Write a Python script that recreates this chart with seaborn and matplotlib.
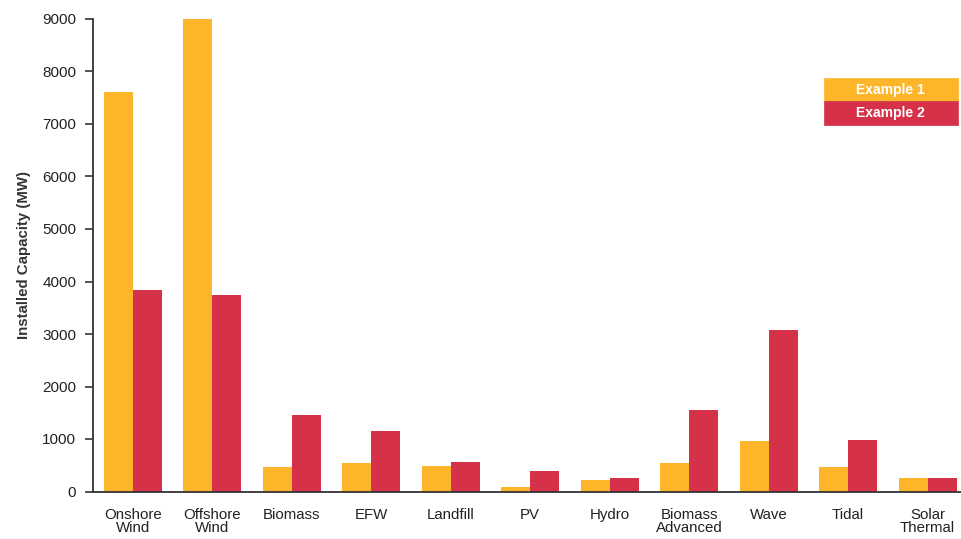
import pandas as pd
import matplotlib
matplotlib.use("Agg")
import matplotlib.pyplot as plt
import seaborn as sns

categories = ["Onshore\nWind", "Offshore\nWind", "Biomass", "EFW", "Landfill", "PV",
              "Hydro", "Biomass\nAdvanced", "Wave", "Tidal", "Solar\nThermal"]
example1 = [7610, 9000, 460, 535, 495, 85, 220, 535, 955, 465, 255]
example2 = [3840, 3740, 1450, 1160, 570, 400, 255, 1555, 3070, 990, 255]
seriesNames = ["Example 1", "Example 2"]
colors = ["#FDB52A", "#D53249"]
yTicks = [0, 1000, 2000, 3000, 4000, 5000, 6000, 7000, 8000, 9000]

df = pd.DataFrame({
  "category": categories * 2,
  "capacity": example1 + example2,
  "series": [seriesNames[0]] * len(categories) + [seriesNames[1]] * len(categories),
})

sns.set_style("ticks")
plt.rcParams["font.family"] = ["Liberation Sans", "DejaVu Sans"]

fig = plt.figure(figsize=(9.61, 5.39), dpi=100)
ax = fig.add_axes([93 / 961, 47.5 / 539, 868 / 961, 472.5 / 539])
sns.barplot(
  data=df,
  x="category",
  y="capacity",
  hue="series",
  palette=colors,
  width=0.73,
  gap=0,
  saturation=1,
  linewidth=0,
  legend=False,
  ax=ax,
)

ax.set_xlim(-0.5, 10.42)
ax.set_ylim(0, 9000)
ax.set_yticks(yTicks)
ax.set_yticklabels([str(t) for t in yTicks])
ax.set_xlabel("")
ax.set_ylabel("Installed Capacity (MW)", fontsize=10.8, fontweight="bold", color="#333333", labelpad=8)
sns.despine(ax=ax)
for side in ["left", "bottom"]:
  ax.spines[side].set_color("#333333")
  ax.spines[side].set_linewidth(1.3)
ax.tick_params(axis="y", length=6, width=1.2, color="#333333", labelsize=11, labelcolor="#222222", pad=6)
ax.tick_params(axis="x", length=0, labelsize=10.8, labelcolor="#222222", pad=12)
for lbl in ax.get_xticklabels():
  lbl.set_linespacing(0.9)

tbl = ax.table(
  cellText=[[seriesNames[0]], [seriesNames[1]]],
  cellColours=[[colors[0]], [colors[1]]],
  cellLoc="center",
  bbox=[0.842, 0.776, 0.154, 0.099],
)
tbl.auto_set_font_size(False)
for (r, c), cell in tbl.get_celld().items():
  cell.set_edgecolor(colors[r])
  cell.set_linewidth(0.5)
  cell.get_text().set_color("white")
  cell.get_text().set_fontweight("bold")
  cell.get_text().set_fontsize(10)

fig.savefig("out.png", dpi=100)
